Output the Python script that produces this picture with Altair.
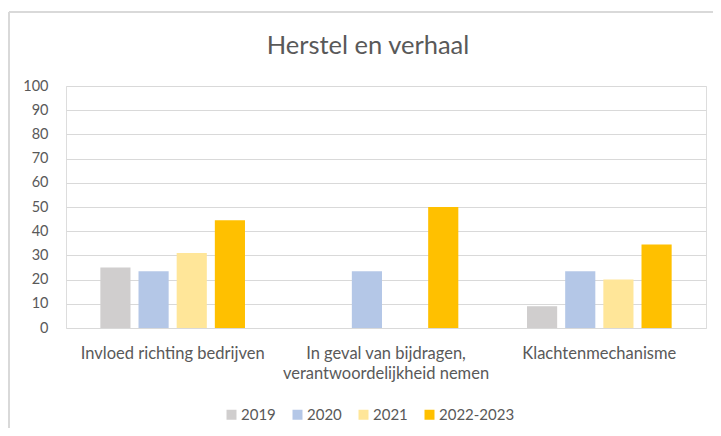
import altair as alt
import pandas as pd

categories = [
    "Invloed richting bedrijven",
    "In geval van bijdragen, verantwoordelijkheid nemen",
    "Klachtenmechanisme",
]
years = ["2019", "2020", "2021", "2022-2023"]
v2019 = [25, None, 9]
v2020 = [23.5, 23.5, 23.5]
v2021 = [31, None, 20]
v2022 = [44.5, 50, 34.5]
colors = ["#D0CECE", "#B4C7E7", "#FFE699", "#FFC000"]
y_ticks = [0, 10, 20, 30, 40, 50, 60, 70, 80, 90, 100]

rows = []
for yr, vals in zip(years, [v2019, v2020, v2021, v2022]):
    for cat, v in zip(categories, vals):
        if v is not None:
            rows.append({"category": cat, "year": yr, "value": v})
df = pd.DataFrame(rows)

FONT = "Lato"
GREY = "#595959"

label_expr = (
    "datum.value == 'In geval van bijdragen, verantwoordelijkheid nemen' ? "
    "['In geval van bijdragen,', 'verantwoordelijkheid nemen'] : datum.value"
)

bars = alt.Chart(df).mark_bar().encode(
    x=alt.X(
        "category:N",
        sort=categories,
        scale=alt.Scale(domain=categories, paddingInner=0, paddingOuter=0),
        axis=alt.Axis(
            title=None, labelAngle=0, domain=False, ticks=False,
            labelFont=FONT, labelFontSize=16.5, labelColor=GREY,
            labelPadding=17, labelLineHeight=20, labelExpr=label_expr,
            labelLimit=400,
        ),
    ),
    xOffset=alt.XOffset(
        "year:N",
        sort=years,
        scale=alt.Scale(domain=years, paddingInner=0.21, paddingOuter=0.9),
    ),
    y=alt.Y(
        "value:Q",
        scale=alt.Scale(domain=[0, 100], nice=False),
        axis=alt.Axis(
            title=None, values=y_ticks, domain=False, ticks=False,
            labelFont=FONT, labelFontSize=14.5, labelColor=GREY,
            labelPadding=18, gridColor="#d9d9d9", gridWidth=1,
        ),
    ),
    color=alt.Color(
        "year:N",
        sort=years,
        scale=alt.Scale(domain=years, range=colors),
        legend=alt.Legend(
            title=None, orient="none", direction="horizontal",
            legendX=158, legendY=321, symbolType="square", symbolSize=100,
            symbolStrokeWidth=0, labelFont=FONT, labelFontSize=15,
            labelColor=GREY, columnPadding=14, labelOffset=2,
        ),
    ),
)

border_top = alt.Chart(pd.DataFrame({"a": [0]})).mark_rule(
    color="#d9d9d9", strokeWidth=2
).encode(x=alt.value(-57), x2=alt.value(720), y=alt.value(-74))
border_left = alt.Chart(pd.DataFrame({"a": [0]})).mark_rule(
    color="#d9d9d9", strokeWidth=2
).encode(x=alt.value(-57), y=alt.value(-74), y2=alt.value(400))

chart = alt.layer(border_top, border_left, bars).properties(
    width=640,
    height=242,
    autosize=alt.AutoSizeParams(type="none"),
    padding={"left": 58, "top": 78, "right": 7, "bottom": 100},
    title=alt.TitleParams(
        "Herstel en verhaal", font=FONT, fontSize=25.5, fontWeight="normal",
        color=GREY, anchor="middle", dx=-18, dy=76, offset=28,
    ),
).configure_view(stroke=None).configure(background="white")

chart.save("out.html", embed_options={"renderer": "svg", "actions": False})
